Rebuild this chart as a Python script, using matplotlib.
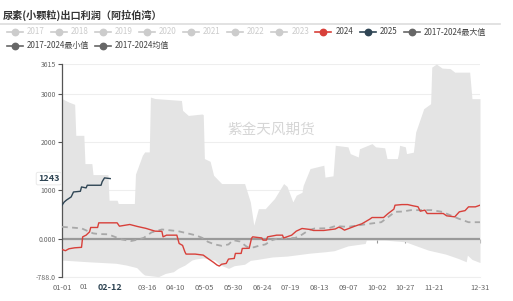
import matplotlib.pyplot as plt
import matplotlib.transforms as mtransforms
from matplotlib.lines import Line2D

plt.rcParams['font.family'] = ['Noto Sans CJK SC', 'DejaVu Sans']

# day index within the year (0 = 01-01, 364 = 12-31)
max_days = [0, 6, 11, 12, 19, 20, 26, 27, 40, 41, 48, 49, 63, 64, 70, 72, 76, 77, 81, 104,
            105, 110, 122, 123, 124, 129, 132, 139, 159, 164, 167, 171, 177, 185, 193, 196,
            201, 204, 209, 210, 216, 228, 229, 236, 238, 249, 251, 258, 259, 270, 273, 281,
            283, 292, 293, 294, 299, 300, 306, 308, 315, 321, 322, 326, 331, 338, 342, 355,
            357, 364]
max_vals = [2897, 2826, 2780, 2138, 2138, 1553, 1553, 1326, 1326, 795, 795, 727, 727, 1336,
            1725, 1795, 1795, 2930, 2900, 2860, 2655, 2550, 2580, 2566, 1657, 1600, 1312,
            1140, 1140, 760, 279, 620, 620, 830, 1140, 1080, 760, 900, 960, 1100, 1450, 1520,
            1274, 1300, 1932, 1900, 1760, 1690, 1860, 1967, 1900, 1880, 1657, 1657, 1760,
            1932, 1900, 1760, 1790, 2207, 2690, 2793, 3550, 3615, 3530, 3520, 3446, 3446,
            2897, 2897]

min_days = [0, 23, 47, 56, 65, 70, 72, 84, 90, 97, 101, 107, 113, 116, 123, 133, 138, 145,
            150, 159, 164, 170, 183, 196, 203, 216, 229, 237, 249, 264, 265, 281, 299, 307,
            319, 334, 345, 352, 353, 357, 364]
min_vals = [-444, -479, -510, -547, -600, -719, -754, -788, -720, -685, -616, -547, -444,
            -423, -400, -444, -547, -616, -560, -530, -450, -430, -380, -361, -340, -300,
            -272, -250, -150, -100, -31, -31, -65, -135, -238, -320, -410, -479, -341, -430,
            -495]

y2025_days = [0, 2, 4, 8, 10, 16, 17, 21, 22, 34, 35, 37, 42]
y2025_vals = [692, 760, 800, 864, 966, 980, 1070, 1050, 1105, 1105, 1180, 1257, 1243]

y2024_days = [0, 3, 6, 11, 17, 18, 21, 24, 25, 31, 32, 48, 50, 59, 66, 73, 81, 87, 88, 91,
              100, 102, 105, 107, 108, 116, 123, 127, 132, 135, 137, 139, 143, 145, 150, 151,
              156, 157, 163, 164, 165, 166, 174, 175, 178, 179, 187, 192, 193, 200, 204, 209,
              216, 219, 228, 238, 241, 243, 246, 255, 261, 265, 268, 270, 280, 284, 289, 290,
              296, 301, 306, 310, 312, 316, 318, 332, 335, 342, 346, 351, 354, 360, 364]
y2024_vals = [-224, -250, -210, -190, -180, 37, 72, 140, 231, 231, 327, 327, 258, 293, 250,
              213, 155, 150, 37, 72, 72, -100, -140, -272, -320, -320, -341, -410, -492, -547,
              -568, -530, -513, -423, -410, -306, -306, -203, -200, -100, 4, 37, 14, -31, -31,
              37, 72, 72, 14, 72, 155, 210, 190, 169, 169, 200, 238, 220, 176, 258, 306, 361,
              403, 437, 437, 520, 610, 692, 705, 705, 678, 660, 568, 590, 520, 520, 472, 451,
              555, 580, 658, 658, 692]

avg_days = [0, 8, 17, 23, 27, 32, 40, 46, 52, 60, 66, 71, 78, 87, 101, 116, 122, 127, 133,
            139, 145, 149, 155, 161, 167, 171, 177, 183, 188, 203, 209, 215, 220, 232, 238,
            249, 267, 278, 284, 290, 296, 304, 322, 331, 338, 345, 354, 364]
avg_vals = [244, 230, 213, 150, 110, 95, 90, 37, -17, -50, -20, 14, 130, 190, 155, 72, 18,
            -65, -120, -148, -120, -31, -60, -169, -180, -150, -120, -31, 4, 14, 83, 176, 210,
            215, 260, 244, 306, 340, 445, 555, 560, 590, 590, 555, 486, 417, 340, 340]

tick_days = [0, 25, 50, 74, 99, 124, 149, 174, 199, 224, 249, 274, 299, 324, 364]
tick_labels = ['01-01', '', '', '03-16', '04-10', '05-05', '05-30', '06-24', '07-19',
               '08-13', '09-07', '10-02', '10-27', '11-21', '12-31']
partial_day, partial_label = 25, '01'   # 01-26, mostly hidden behind the 02-12 marker
today_day, today_label = 42, '02-12'
last_2025 = '1243'
y_ticks = [-788, 0, 1000, 2000, 3000, 3615]
y_labels = ['-788.0', '0.000', '1000', '2000', '3000', '3615']

legend_labels = ['2017', '2018', '2019', '2020', '2021', '2022', '2023', '2024', '2025',
                 '2017-2024最大值', '2017-2024最小值', '2017-2024均值']
legend_active = [False] * 7 + [True] * 5

RED = '#d8403a'
BLUE = '#2f4554'
GREY = '#666666'
legend_colors = ['#cccccc'] * 7 + [RED, BLUE, GREY, GREY, GREY]

W, H = 513, 301
fig = plt.figure(figsize=(W / 100, H / 100), dpi=100)
ax = fig.add_axes([62 / W, 1 - 276.7 / H, (480 - 62) / W, (276.7 - 64) / H])

ax.fill_between(max_days, max_vals, 0, color='#e4e4e4', lw=0, zorder=1)
ax.fill_between(min_days, min_vals, 0, color='#e4e4e4', lw=0, zorder=1)
ax.axhline(0, color='#9a9a9a', lw=1.6, zorder=2)
ax.plot(avg_days, avg_vals, color='#a8a8a8', lw=1.3, ls=(0, (3.2, 2.4)), zorder=3)
ax.plot(y2024_days, y2024_vals, color=RED, lw=1.0, zorder=4)
ax.plot(y2025_days, y2025_vals, color=BLUE, lw=1.0, zorder=5)

ax.set_xlim(0, 364)
ax.set_ylim(-788, 3615)
ax.set_yticks(y_ticks, y_labels)
ax.grid(axis='y', color='#eeeeee', lw=0.8, zorder=0)
ax.set_axisbelow(True)
ax.tick_params(axis='y', length=3, width=0.8, color='#555555', labelcolor='#666666',
               labelsize=5, pad=1.5)

for s in ['top', 'right']:
    ax.spines[s].set_visible(False)
ax.spines['left'].set_color('#555555')
ax.spines['left'].set_linewidth(0.9)
ax.spines['bottom'].set_position(('data', 0))
ax.spines['bottom'].set_visible(False)
ax.set_xticks(tick_days)
ax.tick_params(axis='x', direction='out', length=3, width=0.8, color='#999999',
               labelbottom=False)

sec = ax.secondary_xaxis('bottom')
sec.set_xticks(tick_days, tick_labels)
sec.tick_params(length=0, pad=5, labelsize=5.4, labelcolor='#666666')
sec.spines['bottom'].set_color('#eeeeee')

# x labels near the current day
lab_tr = mtransforms.offset_copy(ax.get_xaxis_transform(), fig=fig, y=-10.5, units='dots')
part_tr = mtransforms.offset_copy(ax.get_xaxis_transform(), fig=fig, x=-2.5, y=-10.5,
                                  units='dots')
ax.text(partial_day, 0, partial_label, transform=part_tr, ha='right', va='center',
        fontsize=5.4, color='#666666', clip_on=False)
ax.text(today_day, 0, today_label, transform=lab_tr, ha='center', va='center',
        fontsize=6.5, fontweight='bold', color=BLUE, clip_on=False, zorder=10,
        bbox=dict(boxstyle='square,pad=0.3', fc='white', ec='none'))
ax.text(-0.006, 1243, last_2025, transform=ax.get_yaxis_transform(), ha='right',
        va='center', fontsize=6.5, fontweight='bold', color=BLUE, clip_on=False, zorder=10,
        bbox=dict(boxstyle='round,pad=0.2', fc='white', ec='#e6e6e6', lw=0.6))

ax.text(0.5, 0.69, '紫金天风期货', transform=ax.transAxes, ha='center', va='center',
        fontsize=10.5, color='#cccccc', alpha=0.8, zorder=6)

# title and separator
fig.text(3 / W, 1 - 15 / H, '尿素(小颗粒)出口利润（阿拉伯湾）', ha='left', va='center',
         fontsize=7.3, fontweight='bold', color='#333333')
fig.add_artist(Line2D([0, 500 / W], [1 - 24 / H] * 2, color='#dddddd', lw=1.2))

# legend
for i, (lab, col, act) in enumerate(zip(legend_labels, legend_colors, legend_active)):
    if i < 10:
        x0, y0 = 6.7 + 44.1 * i, 32
    else:
        x0, y0 = 6.7 + 88.3 * (i - 10), 45.7
    fy = 1 - y0 / H
    fig.add_artist(Line2D([x0 / W, (x0 + 16) / W], [fy, fy], color=col, lw=1.2))
    fig.add_artist(Line2D([(x0 + 8) / W], [fy], marker='o', ms=4.6, color=col, mec=col))
    fig.text((x0 + 20) / W, fy, lab, ha='left', va='center', fontsize=5.8,
             color='#444444' if act else '#cccccc')

fig.savefig('out.png', dpi=100)
